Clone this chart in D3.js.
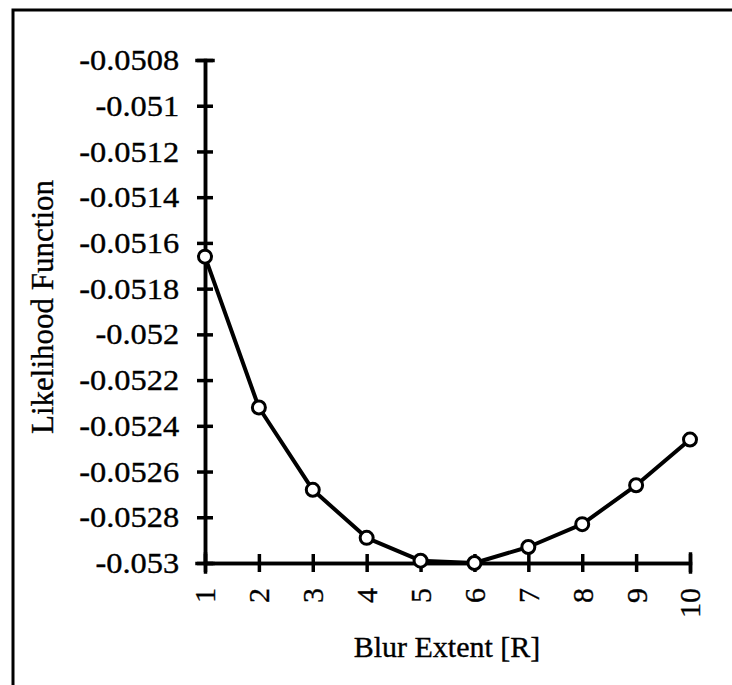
<!DOCTYPE html>
<html>
<head>
<meta charset="utf-8">
<script src="https://cdn.jsdelivr.net/npm/d3@7"></script>
<style>
    body { margin: 0; background: #fff; }
    svg { display: block; }
    text { font-family: "Liberation Serif", "Times New Roman", serif; fill: #000; stroke: #000; stroke-width: 0.35px; }
</style>
</head>
<body>
<div id="chart"></div>
<script>
// blur extent vs likelihood
const blurExtent = [1, 2, 3, 4, 5, 6, 7, 8, 9, 10];
const likelihood = [-0.05166, -0.05232, -0.05268, -0.05289, -0.05299, -0.05300, -0.05293, -0.05283, -0.05266, -0.05246];
const yTicks = [-0.0508, -0.051, -0.0512, -0.0514, -0.0516, -0.0518, -0.052, -0.0522, -0.0524, -0.0526, -0.0528, -0.053];
const yTickLabels = ['-0.0508', '-0.051', '-0.0512', '-0.0514', '-0.0516', '-0.0518', '-0.052', '-0.0522', '-0.0524', '-0.0526', '-0.0528', '-0.053'];
const xTicks = [1, 2, 3, 4, 5, 6, 7, 8, 9, 10];

const width = 732;
const height = 685;

const svg = d3.select('#chart')
    .append('svg')
    .attr('width', width)
    .attr('height', height);

// frame (right and bottom edges fall outside the picture)
svg.append('rect')
    .attr('x', 13)
    .attr('y', 10)
    .attr('width', 800)
    .attr('height', 800)
    .attr('fill', 'none')
    .attr('stroke', '#000')
    .attr('stroke-width', 3);

const x = d3.scaleLinear().domain([1, 10]).range([205, 690]);
const y = d3.scaleLinear().domain([-0.053, -0.0508]).range([563, 60]);

// y axis, ticks crossing the line
const yAxis = svg.append('g')
    .attr('transform', 'translate(205,0)')
    .call(d3.axisLeft(y).tickValues(yTicks).tickSize(8).tickPadding(16)
        .tickFormat((d, i) => yTickLabels[i]));
svg.append('g')
    .attr('transform', 'translate(205,0)')
    .call(d3.axisRight(y).tickValues(yTicks).tickSize(8).tickFormat(''));

yAxis.selectAll('text')
    .style('font-size', '30px')
    .attr('transform', 'scale(1.08,1)');

// x axis
const xAxis = svg.append('g')
    .attr('transform', 'translate(0,563)')
    .call(d3.axisBottom(x).tickValues(xTicks).tickSize(9).tickFormat(d3.format('d')));
svg.append('g')
    .attr('transform', 'translate(0,563)')
    .call(d3.axisTop(x).tickValues(xTicks).tickSize(9).tickFormat(''));

xAxis.selectAll('text')
    .style('font-size', '30px')
    .attr('text-anchor', 'end')
    .attr('transform', 'rotate(-90)')
    .attr('x', -25)
    .attr('y', 0)
    .attr('dy', '0.33em');

svg.selectAll('.domain, .tick line')
    .attr('stroke', '#000')
    .attr('stroke-width', 3.5);

svg.selectAll('.domain').attr('stroke-linecap', 'square');

// axis titles
svg.append('text')
    .attr('x', 447)
    .attr('y', 657)
    .attr('text-anchor', 'middle')
    .style('font-size', '30px')
    .text('Blur Extent [R]');

svg.append('text')
    .attr('transform', 'translate(53,307) rotate(-90)')
    .attr('text-anchor', 'middle')
    .style('font-size', '31px')
    .text('Likelihood Function');

// the series
const line = d3.line()
    .x((d, i) => x(blurExtent[i]))
    .y(d => y(d));

svg.append('path')
    .datum(likelihood)
    .attr('d', line)
    .attr('fill', 'none')
    .attr('stroke', '#000')
    .attr('stroke-width', 4)
    .attr('stroke-linejoin', 'round');

svg.selectAll('circle.pt')
    .data(likelihood)
    .enter()
    .append('circle')
    .attr('class', 'pt')
    .attr('cx', (d, i) => x(blurExtent[i]))
    .attr('cy', d => y(d))
    .attr('r', 6.5)
    .attr('fill', '#fff')
    .attr('stroke', '#000')
    .attr('stroke-width', 3);
</script>
</body>
</html>
